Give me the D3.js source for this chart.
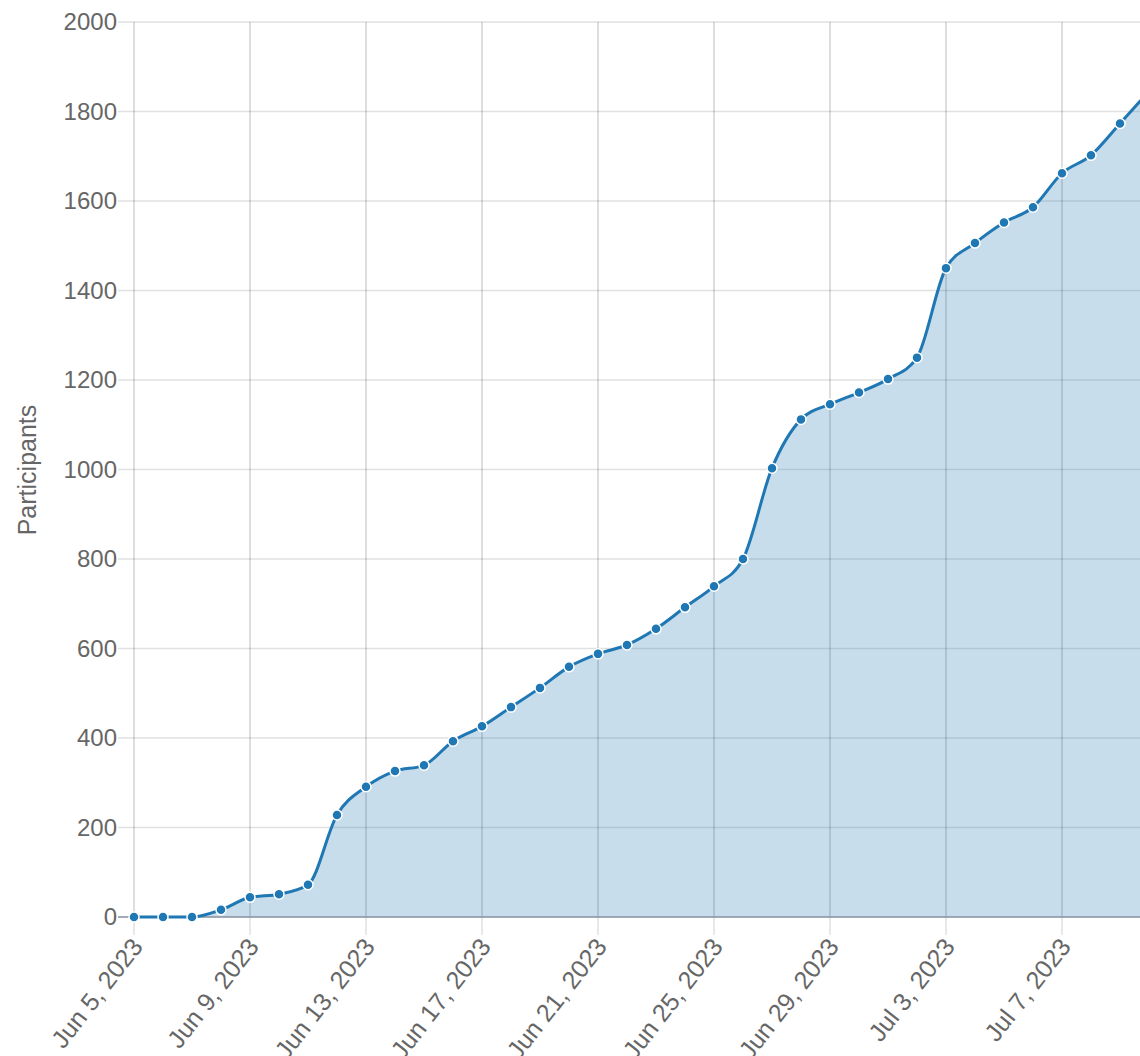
<!DOCTYPE html>
<meta charset="utf-8">
<style>
  body { margin: 0; background: #fff; }
  svg { display: block; font-family: "Liberation Sans", Arial, sans-serif; }
  .grid line { stroke: #000; stroke-opacity: 0.12; stroke-width: 1.5px; }
  .tick text { fill: #666; }
</style>

<svg width="1140" height="1056"></svg>
<script src="https://cdn.jsdelivr.net/npm/d3@7/dist/d3.min.js"></script>

<script>
const svg = d3.select("svg");

// daily cumulative participants, Jun 5 .. Jul 10 2023
const startDate = "2023-06-05";
const participants = [
  0, 0, 0, 16, 44, 51, 72, 228, 291, 326,
  339, 393, 426, 469, 512, 559, 588, 608, 644, 692,
  739, 800, 1003, 1112, 1146, 1172, 1202, 1250, 1450, 1506,
  1552, 1586, 1662, 1702, 1773, 1845
];
const yTicks = [0, 200, 400, 600, 800, 1000, 1200, 1400, 1600, 1800, 2000];

const parse = d3.timeParse("%Y-%m-%d");
const data = participants.map((v, i) => ({ date: d3.timeDay.offset(parse(startDate), i), value: v }));
const xTicks = data.filter((d, i) => i % 4 == 0).map(d => d.date);

const x = d3.scaleTime()
  .domain(d3.extent(data, d => d.date))
  .range([134, 1149]);
const y = d3.scaleLinear()
  .domain([0, 2000])
  .range([917, 22]);

const fmt = d3.timeFormat("%b %-d, %Y");

// grid
svg.append("g")
  .attr("class", "grid")
  .selectAll("line")
  .data(yTicks)
  .enter().append("line")
    .attr("x1", 118).attr("x2", 1140)
    .attr("y1", d => y(d)).attr("y2", d => y(d));

svg.append("g")
  .attr("class", "grid")
  .selectAll("line")
  .data(xTicks)
  .enter().append("line")
    .attr("x1", d => x(d)).attr("x2", d => x(d))
    .attr("y1", 22).attr("y2", 935);

const area = d3.area()
  .x(d => x(d.date))
  .y0(y(0))
  .y1(d => y(d.value))
  .curve(d3.curveMonotoneX);

const line = d3.line()
  .x(d => x(d.date))
  .y(d => y(d.value))
  .curve(d3.curveMonotoneX);

svg.append("path")
  .datum(data)
  .attr("fill", "#1f77b4")
  .attr("fill-opacity", 0.25)
  .attr("d", area);

// faint grid over the area
svg.append("g")
  .selectAll("line")
  .data(xTicks)
  .enter().append("line")
    .attr("x1", d => x(d)).attr("x2", d => x(d))
    .attr("y1", y(2000)).attr("y2", y(0))
    .attr("stroke", "#000").attr("stroke-opacity", 0.06).attr("stroke-width", 1.5);

svg.append("line")
  .attr("x1", 118).attr("x2", 1140)
  .attr("y1", y(0)).attr("y2", y(0))
  .attr("stroke", "#8d99a6").attr("stroke-width", 1.5);

svg.append("path")
  .datum(data)
  .attr("fill", "none")
  .attr("stroke", "#1f77b4")
  .attr("stroke-width", 3)
  .attr("d", line);

svg.append("g")
  .selectAll("circle")
  .data(data)
  .enter().append("circle")
    .attr("cx", d => x(d.date))
    .attr("cy", d => y(d.value))
    .attr("r", 5)
    .attr("fill", "#1f77b4")
    .attr("stroke", "#fff")
    .attr("stroke-width", 1.5);

// tick labels
svg.append("g")
  .attr("transform", "translate(118,0)")
  .attr("font-size", 24)
  .call(d3.axisLeft(y).tickValues(yTicks).tickSize(0).tickPadding(1).tickFormat(d3.format("d")))
  .call(g => g.select(".domain").remove())
  .attr("font-size", 24);

svg.append("g")
  .attr("font-size", 25)
  .selectAll("text")
  .data(xTicks)
  .enter().append("text")
    .attr("transform", d => `translate(${x(d) - 4},936) rotate(-52)`)
    .attr("text-anchor", "end")
    .attr("dy", "0.71em")
    .attr("fill", "#666")
    .text(fmt);

svg.append("text")
  .attr("transform", "translate(36,470) rotate(-90)")
  .attr("text-anchor", "middle")
  .attr("fill", "#666")
  .attr("font-size", 25)
  .text("Participants");
</script>
